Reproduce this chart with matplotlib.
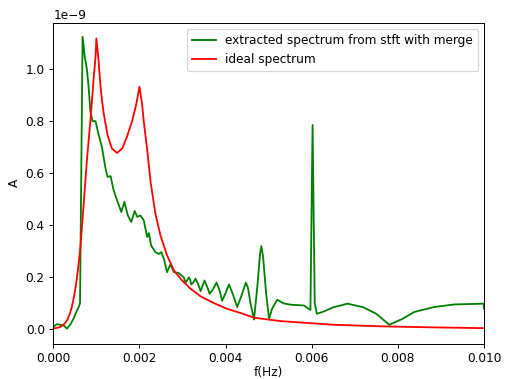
import matplotlib
matplotlib.use("Agg")
import matplotlib.pyplot as plt
import numpy as np

# extracted spectrum (green), amplitude in units of 1e-9
freq_stft = [0.0, 0.00008, 0.00016, 0.00024, 0.00032, 0.0004, 0.00048, 0.00055, 0.00059, 0.00062,
             0.00068, 0.00073, 0.00078, 0.00082, 0.00086, 0.00091, 0.00098, 0.00105, 0.00113,
             0.00121, 0.00126, 0.00133, 0.0014, 0.00148, 0.00158, 0.00165, 0.00173, 0.00181,
             0.00189, 0.00195, 0.00202, 0.0021, 0.00218, 0.00222, 0.00227, 0.00237, 0.00245,
             0.00251, 0.00257, 0.00264, 0.00272, 0.0028, 0.00291, 0.00303, 0.00307, 0.00311,
             0.00315, 0.00318, 0.0032, 0.00325, 0.0033, 0.00336, 0.00342, 0.00346, 0.00351,
             0.00357, 0.00363, 0.00371, 0.00379, 0.00386, 0.00392, 0.004, 0.00408, 0.00418,
             0.00427, 0.00437, 0.00447, 0.00452, 0.00458, 0.00466, 0.00474, 0.0048, 0.00483,
             0.00487, 0.00494, 0.00501, 0.00508, 0.0052, 0.00535, 0.00551, 0.00582, 0.00592,
             0.00597, 0.00602, 0.00607, 0.00612, 0.00628, 0.0065, 0.00683, 0.0072, 0.0075,
             0.0078, 0.0081, 0.00838, 0.00884, 0.00931, 0.00999, 0.01]
amp_stft = [0.01, 0.02, 0.018, 0.015, 0.003, 0.02, 0.045, 0.073, 0.086, 0.10,
            1.124, 1.047, 1.0, 0.93, 0.84, 0.80, 0.80, 0.75, 0.70,
            0.62, 0.586, 0.589, 0.535, 0.496, 0.451, 0.49, 0.438, 0.413,
            0.455, 0.432, 0.438, 0.419, 0.355, 0.37, 0.323, 0.297, 0.29,
            0.297, 0.27, 0.22, 0.25, 0.22, 0.217, 0.20, 0.18, 0.19,
            0.20, 0.19, 0.173, 0.18, 0.195, 0.175, 0.147, 0.165, 0.188,
            0.165, 0.137, 0.155, 0.18, 0.15, 0.11, 0.14, 0.173, 0.13,
            0.086, 0.13, 0.18, 0.16, 0.10, 0.038, 0.17, 0.29, 0.32,
            0.28, 0.14, 0.04, 0.08, 0.114, 0.10, 0.095, 0.092, 0.08,
            0.075, 0.785, 0.10, 0.06, 0.069, 0.085, 0.099, 0.085, 0.06,
            0.018, 0.04, 0.067, 0.086, 0.096, 0.099, 0.08]

# ideal spectrum (red), amplitude in units of 1e-9
freq_ideal = [0.0, 0.00016, 0.00025, 0.00032, 0.00038, 0.00043, 0.00048, 0.00053, 0.00058,
              0.00063, 0.0007, 0.00078, 0.00086, 0.00094, 0.00098, 0.001, 0.00105, 0.00109,
              0.00113, 0.00117, 0.00126, 0.00136, 0.00148, 0.0016, 0.00171, 0.00183, 0.00193,
              0.002, 0.00206, 0.0021, 0.00218, 0.00226, 0.00237, 0.00249, 0.00264, 0.0028,
              0.00299, 0.00319, 0.00342, 0.00373, 0.00404, 0.00435, 0.00466, 0.00528, 0.0065,
              0.0076, 0.0088, 0.01]
amp_ideal = [0.003, 0.009, 0.02, 0.035, 0.058, 0.086, 0.125, 0.175, 0.24,
             0.317, 0.47, 0.65, 0.80, 0.97, 1.047, 1.118, 1.035, 0.945,
             0.88, 0.83, 0.746, 0.695, 0.678, 0.695, 0.74, 0.80, 0.868,
             0.932, 0.868, 0.80, 0.69, 0.565, 0.445, 0.36, 0.285, 0.227,
             0.188, 0.156, 0.127, 0.101, 0.079, 0.063, 0.045, 0.032, 0.018,
             0.012, 0.008, 0.005]

dpi = 87
fig = plt.figure(figsize=(506 / dpi, 379 / dpi), dpi=dpi)
ax = fig.add_axes([53.3 / 506, (379 - 343.5) / 379, (484 - 53.3) / 506, (343.5 - 23) / 379])

ax.plot(freq_stft, np.array(amp_stft) * 1e-9, color="g", label="extracted spectrum from stft with merge")
ax.plot(freq_ideal, np.array(amp_ideal) * 1e-9, color="r", label="ideal spectrum")

ax.set_xlim(0, 0.01)
ax.set_ylim(-0.054e-9, 1.177e-9)
ax.set_xlabel("f(Hz)", labelpad=1)
ax.set_ylabel("A")
ax.legend(loc="upper right")

fig.savefig("out.png", dpi=dpi)
